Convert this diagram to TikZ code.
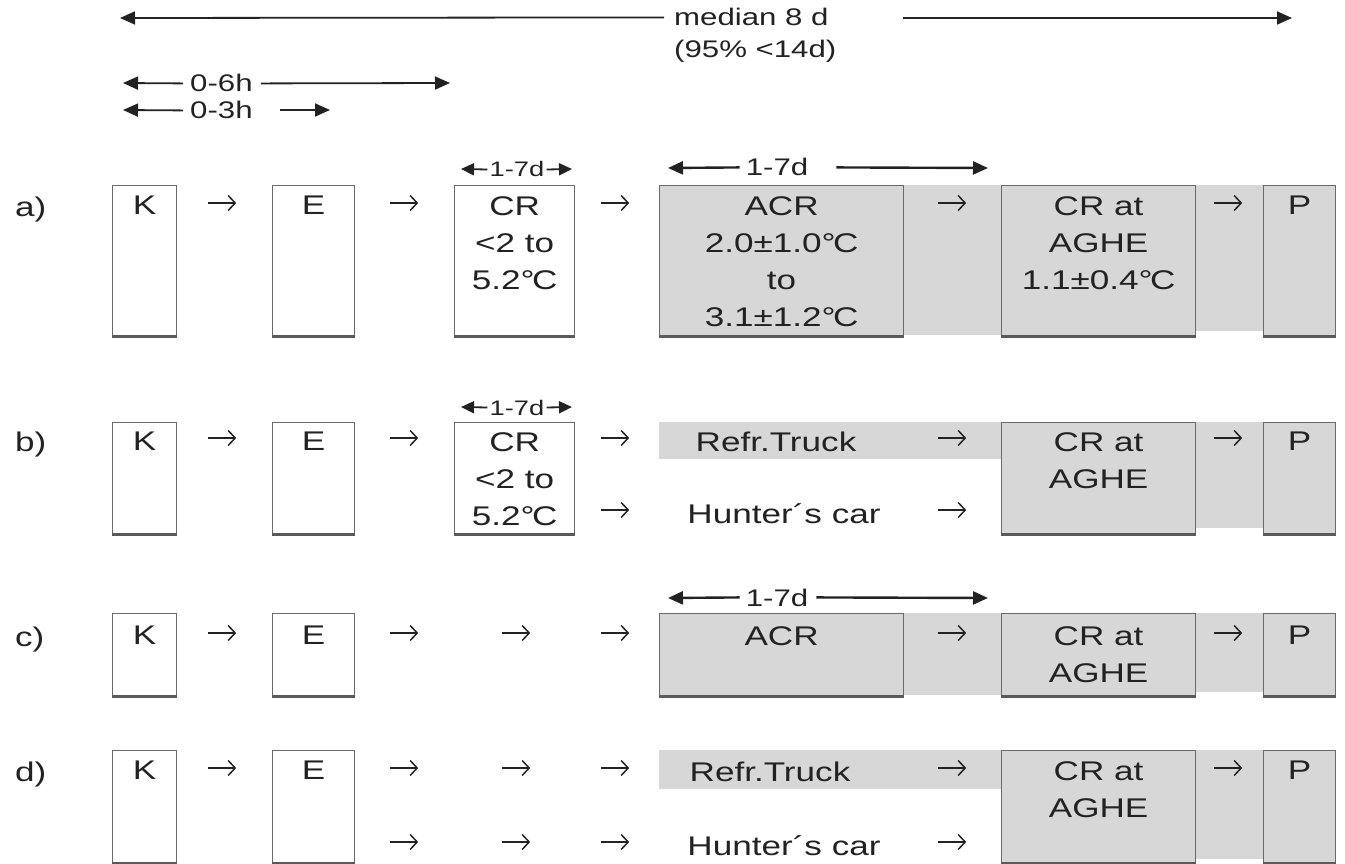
\documentclass[tikz,border=0pt]{standalone}
\usepackage{fontspec}
\setmainfont[FakeStretch=1.3]{Liberation Sans}
\usetikzlibrary{arrows.meta}
\definecolor{boxgray}{HTML}{D7D7D7}
\definecolor{edgegray}{HTML}{6A6A6A}
\definecolor{ink}{HTML}{222222}
\newcommand\myC{°\kern-0.1em C}
\begin{document}
\begin{tikzpicture}[x=1pt,y=-1pt,
  txt/.style={text=ink, font=\fontsize{27}{37}\selectfont, align=center, inner sep=0pt},
  lbl/.style={text=ink, font=\fontsize{24}{30}\selectfont, inner sep=0pt},
  sml/.style={text=ink, font=\fontsize{21}{26}\selectfont, inner sep=0pt},
  box/.style={draw=edgegray, line width=1.2pt, fill=white, inner sep=0pt, anchor=north west},
  gbox/.style={box, fill=boxgray},
  band/.style={fill=boxgray, draw=none},
  botl/.style={draw=edgegray!85!black, line width=2.6pt},
  arrline/.style={draw=ink, line width=1.5pt, -{Straight Barb[length=7pt,width=15pt,line width=1.5pt]}},
  arr/.style={minimum width=28pt, minimum height=10pt, inner sep=0pt,
    append after command={(\tikzlastnode.west) edge[arrline] (\tikzlastnode.east)}},
  dimline/.style={draw=ink, line width=1.8pt},
  tri/.style={-{Triangle[length=15pt,width=13pt]}},
  stri/.style={-{Triangle[length=13pt,width=12pt]}}
]
\useasboundingbox (0,0) rectangle (1345,864);

% ---------------- top dimension lines ----------------
\coordinate (tl) at (120,18);
\coordinate (tr1) at (903,18);
\coordinate (tr2) at (1292,18);
\node[lbl, anchor=base west] (med) at (674,26) {median 8 d};
\node[lbl, anchor=base west] (med2) at (674,58) {(95\% <14d)};
\draw[dimline, tri] ([xshift=-10pt]med.west) -- (tl);
\draw[dimline, tri] (tr1) -- (tr2);

\coordinate (h6l) at (123,83);
\coordinate (h6r) at (450,83);
\node[lbl, anchor=base west] (h6) at (190,92) {0-6h};
\draw[dimline, tri] ([xshift=-7pt]h6.west) -- (h6l);
\draw[dimline, tri] ([xshift=8pt]h6.east) -- (h6r);

\coordinate (h3l) at (123,110);
\coordinate (h3r) at (330,110);
\coordinate (h3s) at (280,110);
\node[lbl, anchor=base west] (h3) at (190,119) {0-3h};
\draw[dimline, tri] ([xshift=-7pt]h3.west) -- (h3l);
\draw[dimline, tri] (h3s) -- (h3r);

% ---------------- row a ----------------
\node[txt, anchor=base west] (la) at (15,217) {a)};
\node[box, minimum width=64pt, minimum height=150pt] (Ka) at (112,185) {};
\node[box, minimum width=82pt, minimum height=150pt] (Ea) at (272,185) {};
\node[box, minimum width=120pt, minimum height=150pt] (CRa) at (454,185) {};
\fill[band] (903,185) rectangle (1001,335);
\fill[band] (1195,185) rectangle (1263,331);
\node[gbox, minimum width=244pt, minimum height=150pt] (ACRa) at (659,185) {};
\node[gbox, minimum width=194pt, minimum height=150pt] (AGa) at (1001,185) {};
\node[gbox, minimum width=72pt, minimum height=150pt] (Pa) at (1263,185) {};
\node[txt, anchor=north] (tKa) at ([yshift=-11pt]Ka.north) {K};
\node[txt, anchor=north] (tEa) at ([yshift=-11pt]Ea.north) {E};
\node[txt, anchor=north] (tCRa) at ([yshift=-11pt]CRa.north) {CR\\<2 to\\5.2\myC};
\node[txt, anchor=north] (tACRa) at ([yshift=-11pt]ACRa.north) {ACR\\2.0±1.0\myC\\to\\3.1±1.2\myC};
\node[txt, anchor=north] (tAGa) at ([yshift=-11pt]AGa.north) {CR at\\AGHE\\1.1±0.4\myC};
\node[txt, anchor=north] (tPa) at ([yshift=-11pt]Pa.north) {P};
\node[arr] (a1) at (222,203) {};
\node[arr] (a2) at (404,203) {};
\node[arr] (a3) at (615,203) {};
\node[arr] (a4) at (952,203) {};
\node[arr] (a5) at (1228,203) {};
% 1-7d above CR
\coordinate (cal) at (461,169);
\coordinate (car) at (572,169);
\node[sml, anchor=base] (dCa) at (517,177) {1-7d};
\draw[dimline, stri] ([xshift=-2pt]dCa.west) -- (cal);
\draw[dimline, stri] ([xshift=2pt]dCa.east) -- (car);
% 1-7d above ACR
\coordinate (aal) at (668,168);
\coordinate (aar) at (988,168);
\node[lbl, anchor=base] (dAa) at (777,176) {1-7d};
\draw[dimline, line width=2.4pt, tri] ([xshift=-6pt]dAa.west) -- (aal);
\draw[dimline, line width=2.4pt, tri] ([xshift=28pt]dAa.east) -- (aar);

% ---------------- row b ----------------
\node[txt, anchor=base west] (lb) at (15,451) {b)};
\node[box, minimum width=64pt, minimum height=111pt] (Kb) at (112,422) {};
\node[box, minimum width=82pt, minimum height=111pt] (Eb) at (272,422) {};
\node[box, minimum width=120pt, minimum height=111pt] (CRb) at (454,422) {};
\fill[band] (659,422) rectangle (1001,459);
\fill[band] (1195,422) rectangle (1263,528);
\node[gbox, minimum width=194pt, minimum height=111pt] (AGb) at (1001,422) {};
\node[gbox, minimum width=72pt, minimum height=111pt] (Pb) at (1263,422) {};
\node[txt, anchor=north] (tKb) at ([yshift=-10pt]Kb.north) {K};
\node[txt, anchor=north] (tEb) at ([yshift=-10pt]Eb.north) {E};
\node[txt, anchor=north] (tCRb) at ([yshift=-10pt]CRb.north) {CR\\<2 to\\5.2\myC};
\node[txt, anchor=north] (tAGb) at ([yshift=-10pt]AGb.north) {CR at\\AGHE};
\node[txt, anchor=north] (tPb) at ([yshift=-10pt]Pb.north) {P};
\node[txt, anchor=base] (rtb) at (776,451) {Refr.Truck};
\node[txt, anchor=base] (hcb) at (784,523) {Hunter´s car};
\node[arr] (b1) at (222,438) {};
\node[arr] (b2) at (404,438) {};
\node[arr] (b3) at (615,438) {};
\node[arr] (b4) at (952,438) {};
\node[arr] (b5) at (1228,438) {};
\node[arr] (b6) at (615,510) {};
\node[arr] (b7) at (952,510) {};
\coordinate (cbl) at (461,407);
\coordinate (cbr) at (572,407);
\node[sml, anchor=base] (dCb) at (517,415) {1-7d};
\draw[dimline, stri] ([xshift=-2pt]dCb.west) -- (cbl);
\draw[dimline, stri] ([xshift=2pt]dCb.east) -- (cbr);

% ---------------- row c ----------------
\node[txt, anchor=base west] (lc) at (15,646) {c)};
\node[box, minimum width=64pt, minimum height=82pt] (Kc) at (112,613) {};
\node[box, minimum width=82pt, minimum height=82pt] (Ec) at (272,613) {};
\fill[band] (903,613) rectangle (1001,695);
\fill[band] (1195,613) rectangle (1263,692);
\node[gbox, minimum width=244pt, minimum height=82pt] (ACRc) at (659,613) {};
\node[gbox, minimum width=194pt, minimum height=82pt] (AGc) at (1001,613) {};
\node[gbox, minimum width=72pt, minimum height=82pt] (Pc) at (1263,613) {};
\node[txt, anchor=north] (tKc) at ([yshift=-13pt]Kc.north) {K};
\node[txt, anchor=north] (tEc) at ([yshift=-13pt]Ec.north) {E};
\node[txt, anchor=north] (tACRc) at ([yshift=-13pt]ACRc.north) {ACR};
\node[txt, anchor=north] (tAGc) at ([yshift=-13pt]AGc.north) {CR at\\AGHE};
\node[txt, anchor=north] (tPc) at ([yshift=-13pt]Pc.north) {P};
\node[arr] (c1) at (222,633) {};
\node[arr] (c2) at (404,633) {};
\node[arr] (c3) at (516,633) {};
\node[arr] (c4) at (615,633) {};
\node[arr] (c5) at (952,633) {};
\node[arr] (c6) at (1228,633) {};
\coordinate (acl) at (668,598);
\coordinate (acr) at (988,598);
\node[lbl, anchor=base] (dAc) at (777,606) {1-7d};
\draw[dimline, line width=2.4pt, tri] ([xshift=-6pt]dAc.west) -- (acl);
\draw[dimline, line width=2.4pt, tri] ([xshift=8pt]dAc.east) -- (acr);

% ---------------- row d ----------------
\node[txt, anchor=base west] (ld) at (15,781) {d)};
\node[box, minimum width=64pt, minimum height=112pt] (Kd) at (112,750) {};
\node[box, minimum width=82pt, minimum height=112pt] (Ed) at (272,750) {};
\fill[band] (659,750) rectangle (1001,789);
\fill[band] (1195,750) rectangle (1263,859);
\node[gbox, minimum width=194pt, minimum height=112pt] (AGd) at (1001,750) {};
\node[gbox, minimum width=72pt, minimum height=112pt] (Pd) at (1263,750) {};
\node[txt, anchor=north] (tKd) at ([yshift=-11pt]Kd.north) {K};
\node[txt, anchor=north] (tEd) at ([yshift=-11pt]Ed.north) {E};
\node[txt, anchor=north] (tAGd) at ([yshift=-11pt]AGd.north) {CR at\\AGHE};
\node[txt, anchor=north] (tPd) at ([yshift=-11pt]Pd.north) {P};
\node[txt, anchor=base] (rtd) at (770,781) {Refr.Truck};
\node[txt, anchor=base] (hcd) at (784,855) {Hunter´s car};
\node[arr] (d1) at (222,768) {};
\node[arr] (d2) at (404,768) {};
\node[arr] (d3) at (516,768) {};
\node[arr] (d4) at (615,768) {};
\node[arr] (d5) at (952,768) {};
\node[arr] (d6) at (1228,768) {};
\node[arr] (d7) at (404,842) {};
\node[arr] (d8) at (516,842) {};
\node[arr] (d9) at (615,842) {};
\node[arr] (d10) at (952,842) {};

% bottom edges (darker)
\foreach \n in {Ka,Ea,CRa,ACRa,AGa,Pa,Kb,Eb,CRb,AGb,Pb,Kc,Ec,ACRc,AGc,Pc,Kd,Ed,AGd,Pd}
  \draw[botl] (\n.south west) -- (\n.south east);
\end{tikzpicture}
\end{document}
